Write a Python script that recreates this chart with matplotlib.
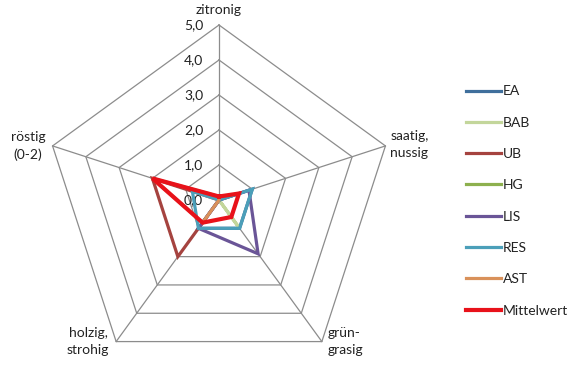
import numpy as np
import matplotlib
matplotlib.use("Agg")
import matplotlib.pyplot as plt

plt.rcParams['font.family'] = ['Lato', 'DejaVu Sans']

categories = ["zitronig", "saatig,\nnussig", "grün-\ngrasig", "holzig,\nstrohig", "röstig\n(0-2)"]
tick_values = [0, 1, 2, 3, 4, 5]
tick_labels = ["0,0", "1,0", "2,0", "3,0", "4,0", "5,0"]

series_names = ["EA", "BAB", "UB", "HG", "LIS", "RES", "AST", "Mittelwert"]
EA = [0.0, 1.0, 1.0, 1.0, 0.0]
BAB = [0.0, 0.0, 1.0, 0.0, 0.0]
UB = [0.0, 0.0, 0.0, 2.0, 2.0]
HG = [0.0, 0.0, 0.0, 0.0, 0.0]
LIS = [0.0, 0.9, 1.9, 1.0, 0.0]
RES = [0.0, 1.0, 1.0, 1.0, 0.8]
AST = [0.1, 0.0, 0.0, 0.8, 2.0]
Mittelwert = [0.1, 0.6, 0.6, 0.8, 2.0]
series_values = [EA, BAB, UB, HG, LIS, RES, AST, Mittelwert]
colors = ["#3F6F9C", "#C3D69B", "#A5433F", "#8DB04E", "#6A5597", "#4B9FB9", "#D9915A", "#E8121A"]
widths = [2.3, 2.3, 2.3, 2.3, 2.3, 2.3, 2.3, 3.0]

W, H = 580, 367
fig = plt.figure(figsize=(W / 100, H / 100), dpi=100)
ax = fig.add_axes([0, 0, 1, 1])
cx, cy, unit = 219, 200, 35
ax.set_xlim(-cx / unit, (W - cx) / unit)
ax.set_ylim(-(H - cy) / unit, cy / unit)
ax.axis('off')

n = len(categories)
ang = np.deg2rad(90 - 72 * np.arange(n))

def xy(vals):
    v = np.asarray(vals, dtype=float)
    x = v * np.cos(ang)
    y = v * np.sin(ang)
    return np.append(x, x[0]), np.append(y, y[0])

grid_c = "#8C8C8C"
for t in tick_values[1:]:
    gx, gy = xy([t] * n)
    ax.plot(gx, gy, color=grid_c, lw=0.9, zorder=1)
rmax = tick_values[-1]
for a in ang:
    ax.plot([0, rmax * np.cos(a)], [0, rmax * np.sin(a)], color=grid_c, lw=0.9, zorder=1)

for t, lab in zip(tick_values, tick_labels):
    ax.text(-0.45, t, lab, ha='right', va='center', fontsize=10, color='#222222', zorder=2)

for i, (name, vals) in enumerate(zip(series_names, series_values)):
    sx, sy = xy(vals)
    ax.plot(sx, sy, color=colors[i], lw=widths[i], label=name, zorder=3 + i,
            solid_joinstyle='miter')

lab_pos = [(0.0, 5.43, 'center'), (4.89, 1.6, 'left'), (3.09, -4.03, 'left'),
           (-3.74, -4.03, 'center'), (-5.46, 1.54, 'center')]
for cat, (lx, ly, ha) in zip(categories, lab_pos):
    ax.text(lx, ly, cat, ha=ha, va='center', fontsize=10, color='#222222',
            linespacing=1.5)

leg = ax.legend(loc='center left', bbox_to_anchor=(466 / W, 1 - 201 / H),
                bbox_transform=fig.transFigure, frameon=False, fontsize=10,
                handlelength=2.5, handletextpad=0.15, labelspacing=1.39,
                borderaxespad=0, borderpad=0)
for t in leg.get_texts():
    t.set_color('#222222')

fig.savefig("out.png", dpi=100)
